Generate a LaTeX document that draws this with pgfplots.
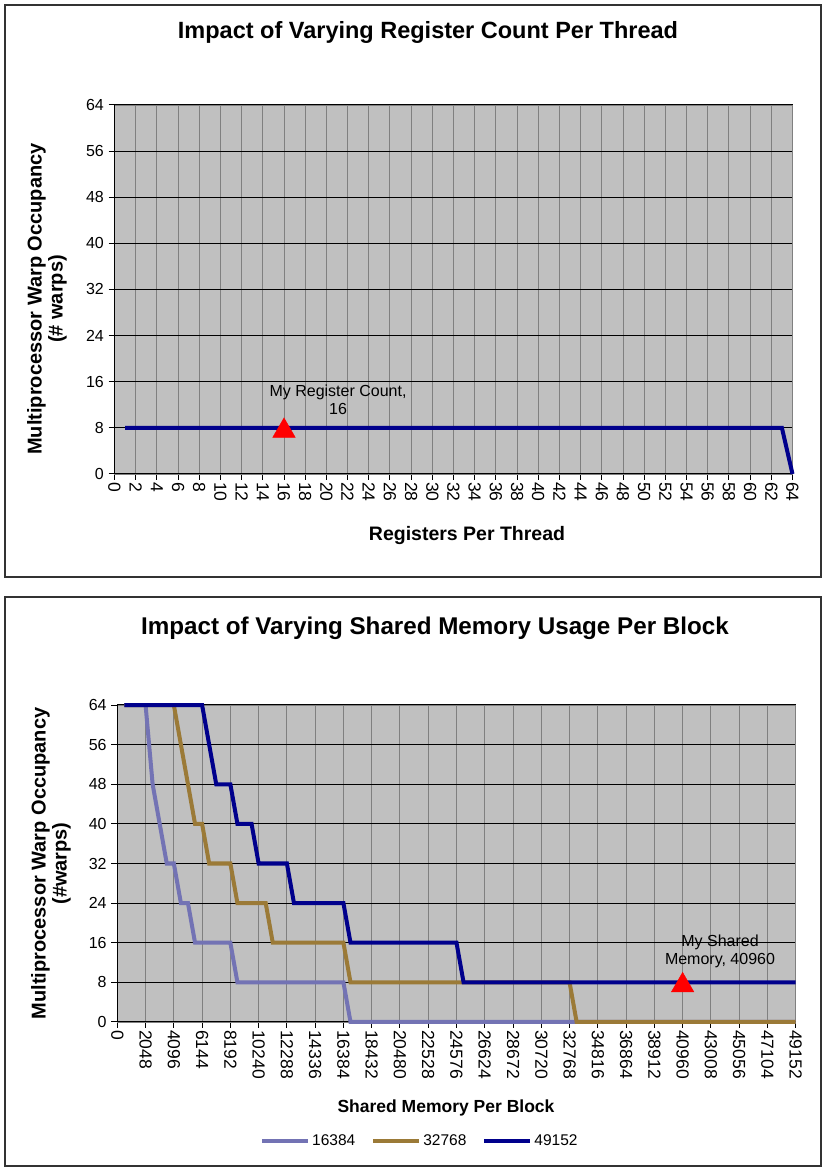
\documentclass[border=0pt]{standalone}
\usepackage{fontspec}
\setmainfont{Liberation Sans}
\usepackage{pgfplots}
\pgfplotsset{compat=1.18}
\definecolor{plotbg}{RGB}{192,192,192}
\definecolor{gridgray}{RGB}{128,128,128}
\definecolor{navy}{RGB}{0,0,140}
\definecolor{lav}{RGB}{115,115,180}
\definecolor{ochre}{RGB}{155,122,55}
\begin{document}
\begin{tikzpicture}[x=1pt,y=1pt]
\fill[white] (0,0) rectangle (823,1169);
\path[use as bounding box] (0,0) rectangle (823,1169);
\draw[line width=1.5pt, black!80] (5,592) rectangle (821,1164);
\draw[line width=1.5pt, black!80] (5,3) rectangle (821,572);
\pgfplotsset{myaxis/.style={
  scale only axis, clip=false,
  axis background/.style={fill=plotbg},
  axis line style={gridgray, line width=0.8pt},
  xmajorgrids, ymajorgrids,
  x grid style={gridgray, line width=1pt},
  y grid style={black, line width=1.2pt},
  tick pos=left, tick align=outside, major tick length=6pt,
  tick style={black, line width=1pt},
  ymin=0, ymax=64, ytick={0,8,...,64},
  /pgf/number format/assume math mode=true,
  /pgf/number format/1000 sep={},
  y tick label style={font=\fontsize{16}{18}\selectfont, inner sep=4.5pt},
  x tick label style={font=\fontsize{17.5}{19}\selectfont, rotate=-90, anchor=west, inner sep=2pt},
}}
% ---------- top chart ----------
\begin{axis}[myaxis, at={(114.5pt,695pt)}, anchor=south west,
  width=678pt, height=369pt, xmin=0, xmax=64, xtick={0,2,...,64}]
\draw[black, line width=1pt] (rel axis cs:0,1) -- (rel axis cs:0,0) -- (rel axis cs:1,0);
\addplot[navy, line width=4pt, no marks] coordinates {(1,8) (63,8) (64,0)};
\addplot[only marks, mark=triangle*, mark size=13pt, color=red,
  mark options={yshift=-3pt}] coordinates {(16,8)};
\node[align=center, font=\fontsize{16}{18}\selectfont] at (axis cs:21.1,12.8) {My Register Count,\\16};
\end{axis}
\node[font=\bfseries\fontsize{23.5}{26}\selectfont] at (428pt,1137pt) {Impact of Varying Register Count Per Thread};
\node[rotate=90, align=center, font=\bfseries\fontsize{20}{21}\selectfont] at (47pt,870pt) {Multiprocessor Warp Occupancy\\(\# warps)};
\node[font=\bfseries\fontsize{19.5}{22}\selectfont] at (467pt,633pt) {Registers Per Thread};
% ---------- bottom chart ----------
\begin{axis}[myaxis, at={(117.3pt,147pt)}, anchor=south west,
  width=678.4pt, height=317pt, xmin=0, xmax=49152,
  xtick={0,2048,...,49152}, scaled x ticks=false,
  xticklabels={0,2048,4096,6144,8192,10240,12288,14336,16384,18432,20480,22528,24576,26624,28672,30720,32768,34816,36864,38912,40960,43008,45056,47104,49152},
  legend style={at={(axis description cs:0.446,-0.375)}, anchor=center, draw=none, fill=none,
    legend columns=3, font=\fontsize{15.5}{17}\selectfont,
    /tikz/every even column/.append style={column sep=14pt}},
  legend image code/.code={\draw[#1, line width=4pt] (0pt,0pt) -- (46pt,0pt);},
  ]
\draw[black, line width=1pt] (rel axis cs:0,1) -- (rel axis cs:0,0) -- (rel axis cs:1,0);
\addplot[lav, line width=4pt, no marks] coordinates {
 (512,64) (2048,64) (2560,48) (3072,40) (3584,32) (4096,32) (4608,24) (5120,24)
 (5632,16) (8192,16) (8704,8) (16384,8) (16896,0) (49152,0)};
\addlegendentry{16384}
\addplot[ochre, line width=4pt, no marks] coordinates {
 (512,64) (4096,64) (4608,56) (5120,48) (5632,40) (6144,40) (6656,32) (8192,32)
 (8704,24) (10752,24) (11264,16) (16384,16) (16896,8) (32768,8) (33280,0) (49152,0)};
\addlegendentry{32768}
\addplot[navy, line width=4pt, no marks] coordinates {
 (512,64) (6144,64) (6656,56) (7168,48) (8192,48) (8704,40) (9728,40) (10240,32)
 (12288,32) (12800,24) (16384,24) (16896,16) (24576,16) (25088,8) (49152,8)};
\addlegendentry{49152}
\addplot[only marks, mark=triangle*, mark size=13pt, color=red, forget plot,
  mark options={yshift=-3pt}] coordinates {(40960,8)};
\node[align=center, font=\fontsize{16}{18}\selectfont] at (axis cs:43667,14.3) {My Shared\\Memory, 40960};
\end{axis}
\node[font=\bfseries\fontsize{24.2}{27}\selectfont] at (435pt,541pt) {Impact of Varying Shared Memory Usage Per Block};
\node[rotate=90, align=center, font=\bfseries\fontsize{20}{21}\selectfont] at (51pt,305.5pt) {Multiprocessor Warp Occupancy\\(\#warps)};
\node[font=\bfseries\fontsize{17.5}{20}\selectfont] at (446pt,61pt) {Shared Memory Per Block};
\end{tikzpicture}
\end{document}
